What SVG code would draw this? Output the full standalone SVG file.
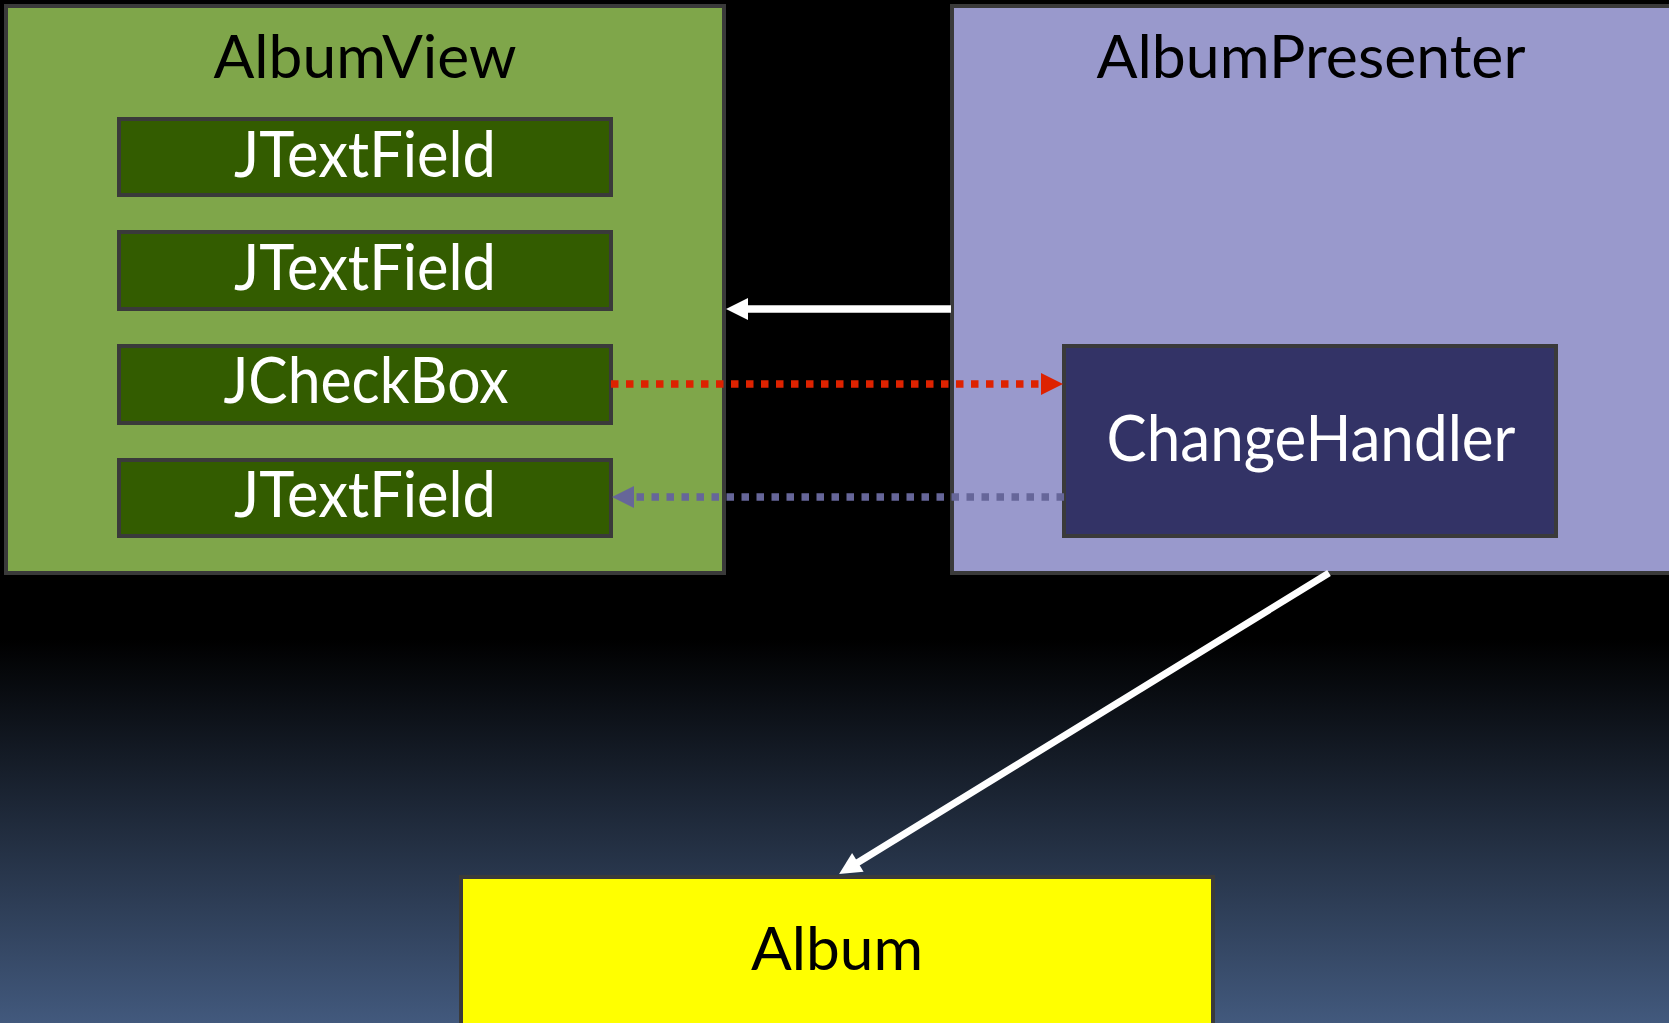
<svg xmlns="http://www.w3.org/2000/svg" width="1669" height="1023" viewBox="0 0 1669 1023">
<defs>
<linearGradient id="bg" x1="0" y1="0" x2="0" y2="1">
<stop offset="0" stop-color="#000000"/>
<stop offset="0.625" stop-color="#000000"/>
<stop offset="1" stop-color="#42597d"/>
</linearGradient>
<marker id="aw" viewBox="0 0 22 22" markerWidth="22" markerHeight="22" refX="1" refY="11" orient="auto" markerUnits="userSpaceOnUse" overflow="visible"><path d="M0,0 L22,11 L0,22 Z" fill="#ffffff"/></marker>
<marker id="ar" viewBox="0 0 22 22" markerWidth="22" markerHeight="22" refX="1" refY="11" orient="auto" markerUnits="userSpaceOnUse" overflow="visible"><path d="M0,0 L22,11 L0,22 Z" fill="#dd2200"/></marker>
<marker id="ap" viewBox="0 0 22 22" markerWidth="22" markerHeight="22" refX="1" refY="11" orient="auto" markerUnits="userSpaceOnUse" overflow="visible"><path d="M0,0 L22,11 L0,22 Z" fill="#666699"/></marker>
</defs>
<style>
.box{stroke:#3a3a3a;stroke-width:4}
.t{font-family:Lato,"Liberation Sans",sans-serif;text-anchor:middle}
.big{font-size:60px;fill:#000}
.lbl{font-size:63px;fill:#fff}
.dot{stroke-width:7.5;stroke-dasharray:7.5 7.5}
</style>
<rect width="1669" height="1023" fill="url(#bg)"/>
<g id="albumview">
<rect class="box" x="6" y="6" width="718" height="567" fill="#7fa64a"/>
<text class="t big" x="365" y="78" textLength="303" lengthAdjust="spacingAndGlyphs">AlbumView</text>
</g>
<g id="jtextfield1">
<rect class="box" x="119" y="119" width="492" height="76" fill="#335c00"/>
<text class="t lbl" x="365" y="177" textLength="262" lengthAdjust="spacingAndGlyphs">JTextField</text>
</g>
<g id="jtextfield2">
<rect class="box" x="119" y="232" width="492" height="77" fill="#335c00"/>
<text class="t lbl" x="365" y="290" textLength="262" lengthAdjust="spacingAndGlyphs">JTextField</text>
</g>
<g id="jcheckbox">
<rect class="box" x="119" y="346" width="492" height="77" fill="#335c00"/>
<text class="t lbl" x="366" y="403" textLength="285" lengthAdjust="spacingAndGlyphs">JCheckBox</text>
</g>
<g id="jtextfield3">
<rect class="box" x="119" y="460" width="492" height="76" fill="#335c00"/>
<text class="t lbl" x="365" y="517" textLength="262" lengthAdjust="spacingAndGlyphs">JTextField</text>
</g>
<g id="albumpresenter">
<rect class="box" x="952" y="6" width="730" height="567" fill="#9999cc"/>
<text class="t big" x="1311" y="78" textLength="429" lengthAdjust="spacingAndGlyphs">AlbumPresenter</text>
</g>
<g id="changehandler">
<rect class="box" x="1064" y="346" width="492" height="190" fill="#333366"/>
<text class="t lbl" x="1311" y="461" textLength="409" lengthAdjust="spacingAndGlyphs">ChangeHandler</text>
</g>
<g id="album">
<rect class="box" x="461" y="877" width="752" height="160" fill="#ffff00"/>
<text class="t big" x="837" y="970" textLength="172" lengthAdjust="spacingAndGlyphs">Album</text>
</g>
<g id="connectors">
<line x1="951" y1="309" x2="747" y2="309" stroke="#ffffff" stroke-width="7.5" marker-end="url(#aw)"/>
<line x1="611" y1="384" x2="1042" y2="384" class="dot" stroke="#dd2200" marker-end="url(#ar)"/>
<line x1="1064" y1="497" x2="633" y2="497" class="dot" stroke="#666699" marker-end="url(#ap)"/>
<line x1="1329" y1="573" x2="857" y2="863" stroke="#ffffff" stroke-width="7" marker-end="url(#aw)"/>
</g>
</svg>
